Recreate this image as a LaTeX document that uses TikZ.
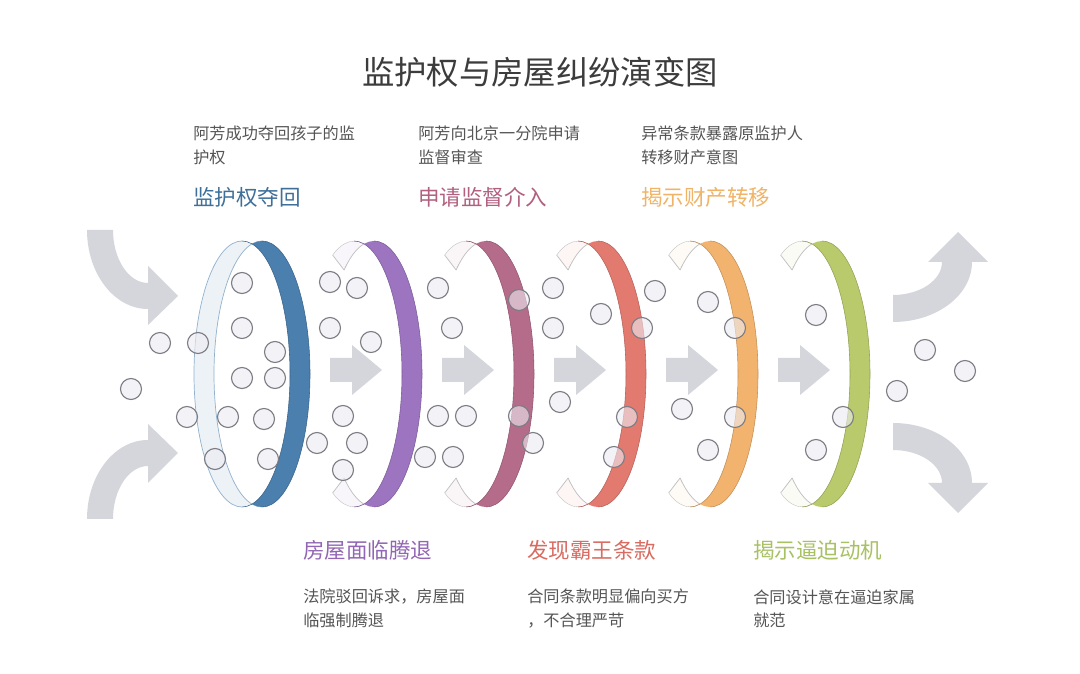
\documentclass[tikz,border=0pt]{standalone}
\usepackage{fontspec}
\setmainfont{Noto Sans CJK SC}
\usetikzlibrary{positioning}

\definecolor{ringA}{HTML}{4A7FAE}
\definecolor{ringB}{HTML}{9C74C0}
\definecolor{ringC}{HTML}{B56C8A}
\definecolor{ringD}{HTML}{E27A70}
\definecolor{ringE}{HTML}{F2B36E}
\definecolor{ringF}{HTML}{B8CA6C}
\definecolor{headA}{HTML}{3F7099}
\definecolor{headB}{HTML}{9266B4}
\definecolor{headC}{HTML}{B2607F}
\definecolor{headD}{HTML}{D96B61}
\definecolor{headE}{HTML}{F0B468}
\definecolor{headF}{HTML}{A8C163}
\definecolor{flowgray}{HTML}{D4D6DB}
\definecolor{dotfill}{HTML}{ECECF3}
\definecolor{dotedge}{HTML}{7C7C84}
\definecolor{txtgray}{HTML}{555555}
\definecolor{titlegray}{HTML}{3C3C3C}

\begin{document}
\begin{tikzpicture}[
  x=0.025cm, y=-0.025cm,
  note/.style={font=\fontsize{11.5}{17}\selectfont, text=txtgray,
               align=left, anchor=north west, inner sep=0pt},
  head/.style={font=\fontsize{15.3}{18}\selectfont, anchor=west, inner sep=0pt},
  flow/.style={fill=flowgray},
  dot/.style={draw=dotedge, fill=dotfill, fill opacity=0.6, line width=0.8pt},
  rim/.style={x radius=48, y radius=133},
  piece/.style={draw=black!25, line width=0.5pt}
]
\fill[white] (0,0) rectangle (1080,674);
\useasboundingbox (0,0) rectangle (1080,674);

\node[font=\fontsize{23}{28}\selectfont, text=titlegray] (title) at (540,72)
  {监护权与房屋纠纷演变图};

% big curved arrows in and out
\fill[flow] (87,230) arc[start angle=180, end angle=90, x radius=61, y radius=79]
  -- (148,325) -- (178,296) -- (148,266) -- (148,283)
  arc[start angle=90, end angle=180, x radius=35, y radius=53] -- cycle;
\fill[flow] (87,519) arc[start angle=180, end angle=270, x radius=61, y radius=79]
  -- (148,424) -- (178,453) -- (148,483) -- (148,466)
  arc[start angle=270, end angle=180, x radius=35, y radius=53] -- cycle;
\fill[flow] (893,322) arc[start angle=90, end angle=0, x radius=79, y radius=60]
  -- (988,262) -- (958,232) -- (928,262) -- (942,262)
  arc[start angle=0, end angle=90, x radius=49, y radius=33] -- cycle;
\fill[flow] (893,423) arc[start angle=270, end angle=360, x radius=79, y radius=60]
  -- (988,483) -- (958,513) -- (928,483) -- (942,483)
  arc[start angle=0, end angle=-90, x radius=49, y radius=33] -- cycle;

% first ring: open inner face
\begin{scope}
  \clip (242,374) ellipse[rim];
  \fill[ringA!10, even odd rule] (180,200) rectangle (320,560) (262,374) ellipse[rim];
\end{scope}
\draw[ringA!60, line width=0.5pt] (242,241) arc[start angle=270, end angle=90, rim];
\draw[ringA!60, line width=0.5pt] (262,241) arc[start angle=270, end angle=90, rim];

% rings 2-6: cut inner face, top and bottom
\foreach \cx/\cc in {354/ringB, 466/ringC, 578/ringD, 690/ringE, 802/ringF} {
  \begin{scope}
    \clip (\cx-60,174) -- (\cx-60,202) -- (\cx+10,297) -- (\cx+10,174) -- cycle;
    \clip (\cx,374) ellipse[rim];
    \fill[\cc!7, even odd rule] (\cx-60,150) rectangle (\cx+80,600) (\cx+20,374) ellipse[rim];
    \draw[piece] (\cx+20,374) ellipse[rim];
    \draw[piece] (\cx,374) ellipse[rim];
  \end{scope}
  \begin{scope}
    \clip (\cx-60,574) -- (\cx-60,546) -- (\cx+10,451) -- (\cx+10,574) -- cycle;
    \clip (\cx,374) ellipse[rim];
    \fill[\cc!7, even odd rule] (\cx-60,150) rectangle (\cx+80,600) (\cx+20,374) ellipse[rim];
    \draw[piece] (\cx+20,374) ellipse[rim];
    \draw[piece] (\cx,374) ellipse[rim];
  \end{scope}
  \draw[piece] (\cx-21.4,255) -- (\cx-9.9,270);
  \draw[piece] (\cx-21.4,493) -- (\cx-9.9,478);
}

% coloured bands
\foreach \cx/\cc in {242/ringA, 354/ringB, 466/ringC, 578/ringD, 690/ringE, 802/ringF} {
  \begin{scope}
    \clip (\cx+20,374) ellipse[rim];
    \fill[\cc, even odd rule] (\cx-60,200) rectangle (\cx+80,550) (\cx,374) ellipse[rim];
  \end{scope}
  \draw[\cc!80!black, line width=0.4pt] (\cx+20,241) arc[start angle=270, end angle=450, rim];
  \draw[\cc!80!black, line width=0.4pt] (\cx,241) arc[start angle=270, end angle=450, rim];
}

% small arrows between rings
\foreach \ax in {330,442,554,666,778}
  \fill[flow] (\ax,358) -- (\ax+22,358) -- (\ax+22,345) -- (\ax+52,370)
    -- (\ax+22,395) -- (\ax+22,382) -- (\ax,382) -- cycle;

% particles
\foreach \px/\py in {242/283, 242/328, 160/343, 198/343, 275/352, 242/378, 275/378,
    131/389, 187/417, 228/417, 264/419, 215/459, 268/459,
    330/282, 357/288, 330/328, 371/342, 343/416, 317/443, 357/443, 343/470,
    438/288, 452/328, 438/416, 466/416, 425/457, 453/457, 519/300, 519/416, 533/443,
    553/288, 553/328, 560/402, 601/314, 655/291, 642/328, 627/417, 614/457,
    708/302, 735/328, 682/409, 735/417, 708/450,
    816/315, 843/417, 816/450, 925/350, 965/371, 897/391}
  \draw[dot] (\px,\py) circle[radius=10.5];

% texts above
\node[note] (noteA) at (193,126) {阿芳成功夺回孩子的监\\护权};
\node[note] (noteC) at (418,126) {阿芳向北京一分院申请\\监督审查};
\node[note] (noteE) at (641,126) {异常条款暴露原监护人\\转移财产意图};
\node[head, text=headA] (headA) at (193,197) {监护权夺回};
\node[head, text=headC] (headC) at (418,197) {申请监督介入};
\node[head, text=headE] (headE) at (641,197) {揭示财产转移};

% texts below
\node[head, text=headB] (headB) at (303,550) {房屋面临腾退};
\node[head, text=headD] (headD) at (527,550) {发现霸王条款};
\node[head, text=headF] (headF) at (753,550) {揭示逼迫动机};
\node[note] (noteB) at (303,589) {法院驳回诉求，房屋面\\临强制腾退};
\node[note] (noteD) at (527,589) {合同条款明显偏向买方\\，不合理严苛};
\node[note] (noteF) at (753,589) {合同设计意在逼迫家属\\就范};
\end{tikzpicture}
\end{document}
